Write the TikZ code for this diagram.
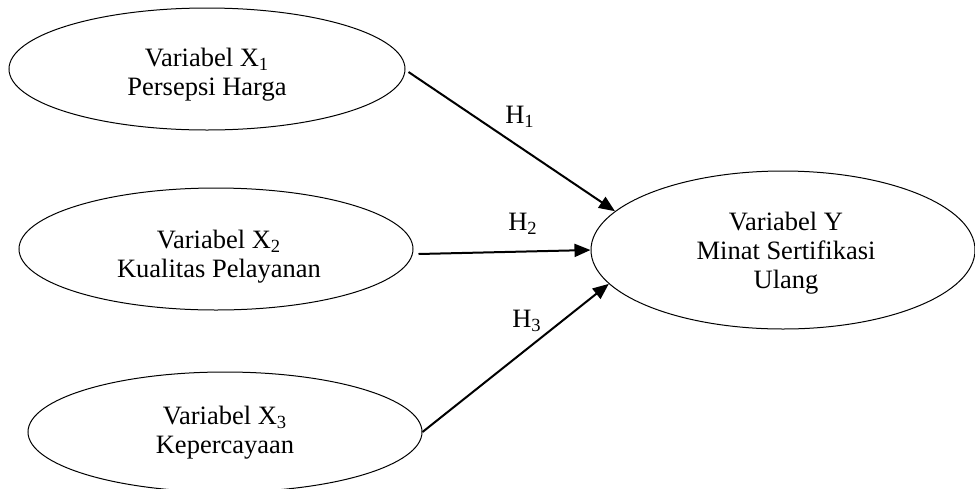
\documentclass[tikz,border=0pt]{standalone}
\usepackage{fontspec}
\setmainfont{Liberation Serif}
\usetikzlibrary{shapes.geometric,arrows.meta}
\begin{document}
\begin{tikzpicture}[x=0.5pt,y=-0.5pt,
  var/.style={ellipse,draw,line width=0.5pt,inner sep=0pt},
  txt/.style={align=center,inner sep=0pt,anchor=base,font=\fontsize{13.25}{14.4}\selectfont},
  hlab/.style={inner sep=0pt,anchor=base,font=\fontsize{13.25}{14.4}\selectfont},
  conn/.style={line width=1pt,-{Triangle[length=8pt,width=6.5pt]}}]
\useasboundingbox (0,0) rectangle (975,488);
\node[var,minimum width=198pt,minimum height=61pt] (x1) at (207,69) {};
\node[var,minimum width=197pt,minimum height=61pt] (x2) at (216,249) {};
\node[var,minimum width=197pt,minimum height=60pt] (x3) at (225,432) {};
\node[var,minimum width=192pt,minimum height=79pt] (y) at (783,250) {};
\node[txt] (t1) at (207,95) {Variabel X\textsubscript{1}\\Persepsi Harga};
\node[txt] (t2) at (219,277) {Variabel X\textsubscript{2}\\Kualitas Pelayanan};
\node[txt] (t3) at (225,453) {Variabel X\textsubscript{3}\\Kepercayaan};
\node[txt] (ty) at (786,288) {Variabel Y\\Minat Sertifikasi\\Ulang};
\draw[conn] ([xshift=1.5pt,yshift=-1.5pt]x1.east) -- (y.167.6);
\draw[conn] ([xshift=2.5pt,yshift=-2.5pt]x2.east) -- (y.west);
\draw[conn] (x3.east) -- (y.191.3);
\node[hlab] (h1) at (520,123) {H\textsubscript{1}};
\node[hlab] (h2) at (523,230) {H\textsubscript{2}};
\node[hlab] (h3) at (527,327) {H\textsubscript{3}};
\end{tikzpicture}
\end{document}
